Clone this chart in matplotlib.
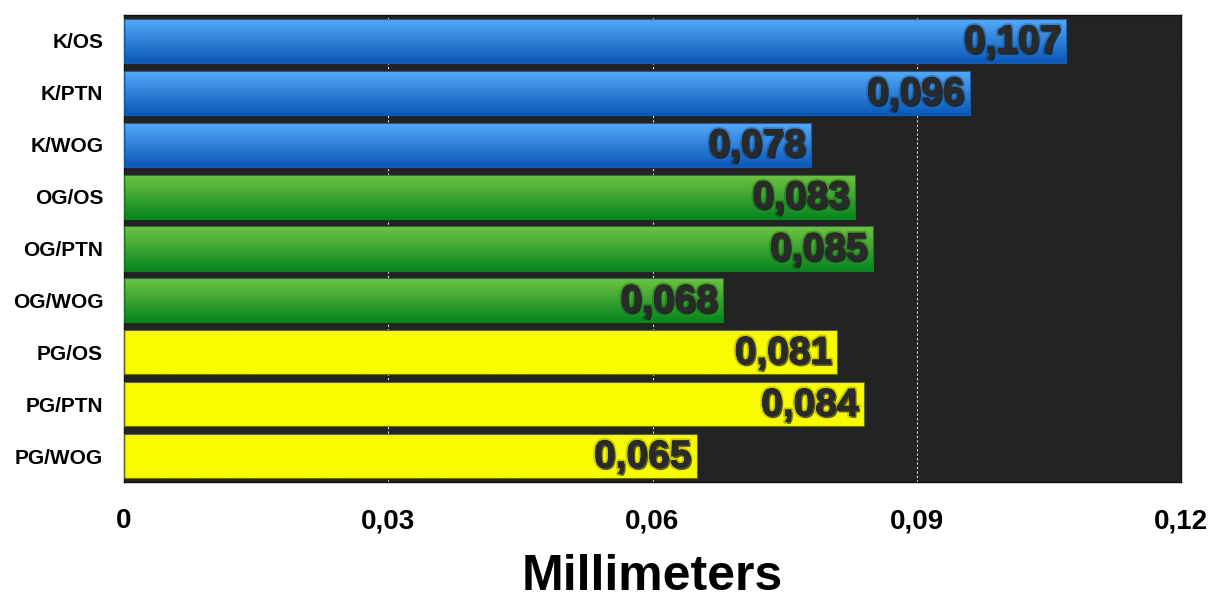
import numpy as np
import matplotlib
matplotlib.use("Agg")
import matplotlib.pyplot as plt
import matplotlib.patheffects as pe
from matplotlib.colors import LinearSegmentedColormap

categories = ["K/OS", "K/PTN", "K/WOG", "OG/OS", "OG/PTN", "OG/WOG",
              "PG/OS", "PG/PTN", "PG/WOG"]
values = [0.107, 0.096, 0.078, 0.083, 0.085, 0.068, 0.081, 0.084, 0.065]
groups = ["K", "K", "K", "OG", "OG", "OG", "PG", "PG", "PG"]
x_ticks = [0, 0.03, 0.06, 0.09, 0.12]
x_tick_labels = ["0", "0,03", "0,06", "0,09", "0,12"]

# top colour, bottom colour, edge colour for each group
group_style = {
    "K": ("#56acfa", "#0a58b8", "#1a5ea8"),
    "OG": ("#70c444", "#07861f", "#1f7a22"),
    "PG": ("#f8fc00", "#f8fc00", "#6a6a10"),
}

plt.rcParams["font.family"] = ["Liberation Sans", "DejaVu Sans"]

fig = plt.figure(figsize=(12.14, 6.0), dpi=100)
ax = fig.add_axes([124 / 1214, 1 - 482 / 600, (1181 - 124) / 1214, (482 - 15) / 600])
ax.set_facecolor("#232323")

ypos = np.arange(len(categories))
bars = ax.barh(ypos, values, height=0.85, color="none", zorder=3)

for bar, g, v in zip(bars, groups, values):
    top, bot, edge = group_style[g]
    x0, y0 = bar.get_x(), bar.get_y()
    w, h = bar.get_width(), bar.get_height()
    cmap = LinearSegmentedColormap.from_list("grad", [top, bot])
    grad = np.linspace(0, 1, 64).reshape(-1, 1)
    im = ax.imshow(grad, cmap=cmap, aspect="auto",
                   extent=(x0, x0 + w, y0 + h, y0), origin="upper",
                   zorder=2, interpolation="bicubic")
    im.set_clip_path(bar)
    bar.set_edgecolor(edge)
    bar.set_linewidth(0.8)
    label = ("%.3f" % v).replace(".", ",")
    ax.text(x0 + w - 0.0006, y0 + h / 2 + 0.03, label, ha="right", va="center",
            fontsize=28, fontweight="bold", color="#2a2a2a", zorder=5,
            path_effects=[pe.withStroke(linewidth=3.5, foreground="#00000030"),
                          pe.SimplePatchShadow(offset=(1.2, -1.5), alpha=0.5,
                                               shadow_rgbFace="#000000"),
                          pe.withStroke(linewidth=0.8, foreground="#2a2a2a"),
                          pe.Normal()])

ax.set_xlim(0, 0.12)
ax.set_ylim(len(categories) - 0.5, -0.5)
ax.set_xticks(x_ticks)
ax.set_xticklabels(x_tick_labels, fontsize=20, fontweight="bold")
ax.set_yticks(ypos)
ax.set_yticklabels(categories, fontsize=15, fontweight="bold")
ax.tick_params(axis="x", length=0, pad=19)
ax.tick_params(axis="y", length=0, pad=15)
ax.xaxis.grid(True, color="#d8d8d8", linestyle=(0, (2, 2)), linewidth=0.8, zorder=1)
ax.set_axisbelow(True)
for s in ax.spines.values():
    s.set_color("#111111")
    s.set_linewidth(1.0)

fig.text((124 + 1181) / 2 / 1214, 1 - 577 / 600, "Millimeters", ha="center",
         va="center", fontsize=36, fontweight="bold", color="black")

fig.savefig("out.png", dpi=100, facecolor="white")
